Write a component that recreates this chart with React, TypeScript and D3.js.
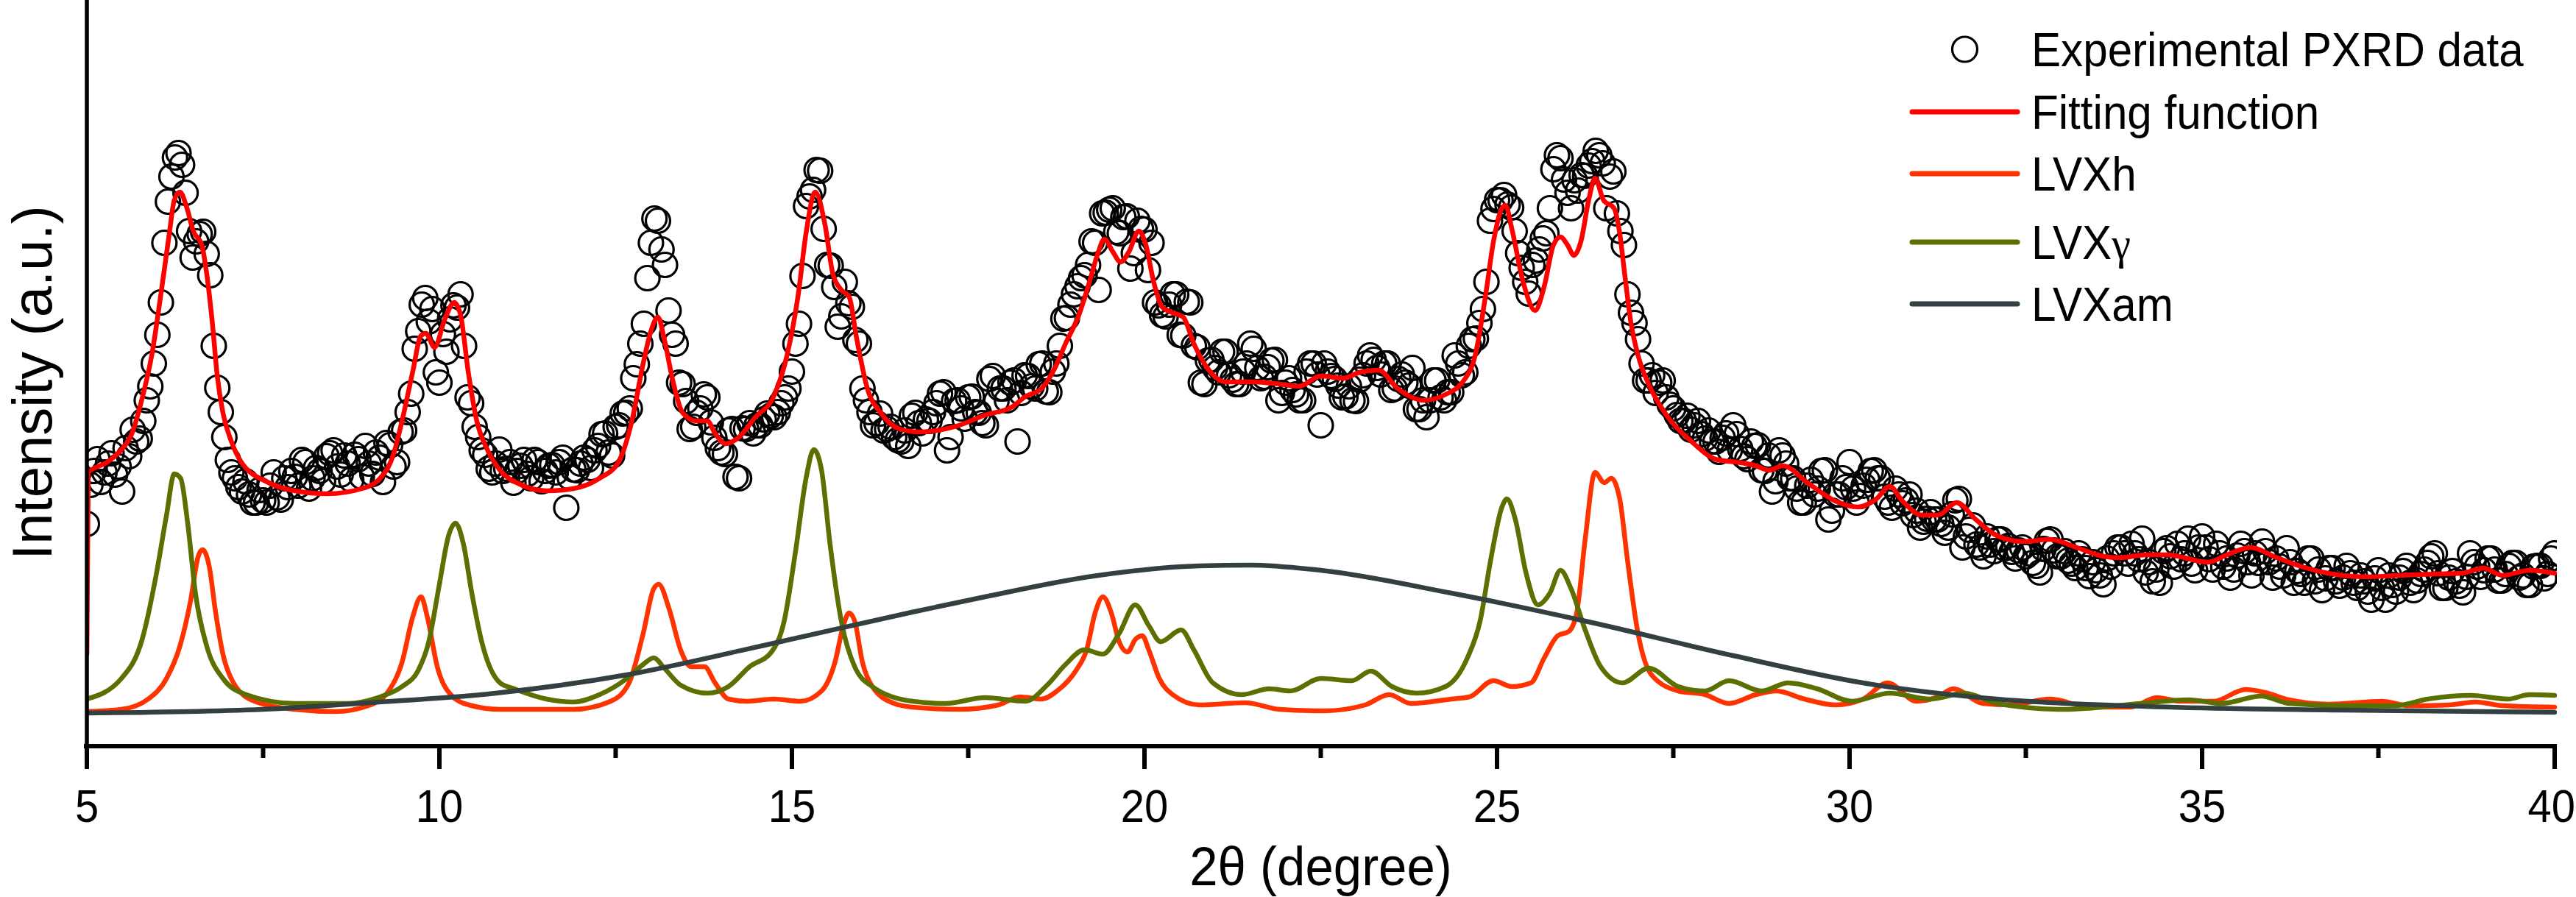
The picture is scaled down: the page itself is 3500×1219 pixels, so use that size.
import React from 'react';
import * as d3 from 'd3';

const W = 3500;
const H = 1219;

// Experimental PXRD data (intensity, a.u.): 2θ = 5.0, 5.1, ... 40.0
const expStart = 5;
const expStep = 0.1;
const expIntensity = [
  302, 374, 359, 384, 369, 346, 394, 414, 442, 489,
  559, 684, 774, 806, 752, 664, 696, 669, 544, 454,
  389, 364, 346, 342, 331, 334, 354, 338, 364, 374,
  354, 386, 364, 374, 394, 402, 369, 384, 396, 366,
  384, 399, 359, 409, 386, 429, 479, 564, 609, 594,
  494, 536, 599, 614, 474, 434, 402, 377, 384, 374,
  386, 374, 389, 364, 386, 374, 382, 386, 324, 376,
  384, 389, 402, 424, 399, 434, 452, 459, 519, 574,
  684, 714, 654, 559, 494, 469, 434, 459, 474, 419,
  399, 429, 366, 432, 439, 436, 444, 449, 454, 474,
  509, 574, 734, 756, 782, 654, 624, 584, 602, 552,
  486, 454, 439, 429, 434, 416, 429, 449, 439, 444,
  454, 479, 402, 469, 459, 474, 454, 439, 499, 469,
  486, 494, 414, 504, 489, 519, 482, 509, 544, 582,
  614, 636, 654, 684, 724, 729, 699, 719, 649, 714,
  702, 684, 599, 584, 614, 559, 604, 544, 494, 524,
  514, 536, 504, 492, 509, 547, 514, 502, 524, 470,
  494, 484, 470, 509, 520, 436, 509, 499, 474, 489,
  469, 504, 531, 514, 520, 484, 499, 494, 514, 458,
  447, 497, 474, 481, 531, 504, 544, 554, 594, 714,
  742, 749, 732, 670, 631, 654, 675, 697, 784, 799,
  752, 769, 776, 789, 809, 792, 774, 724, 681, 589,
  553, 497, 504, 494, 474, 459, 442, 449, 436, 424,
  429, 414, 419, 402, 424, 394, 414, 409, 374, 346,
  402, 384, 364, 331, 354, 342, 374, 308, 342, 364,
  386, 331, 354, 374, 364, 339, 324, 342, 334, 314,
  297, 309, 308, 302, 297, 334, 270, 294, 274, 258,
  274, 281, 269, 264, 266, 258, 249, 236, 279, 266,
  258, 252, 242, 254, 231, 239, 220, 244, 270, 262,
  275, 254, 236, 224, 222, 269, 244, 254, 282, 239,
  285, 254, 275, 244, 229, 259, 265, 232, 249, 265,
  229, 244, 269, 222, 234, 255, 224, 212, 242, 224,
  229, 235, 215, 224, 199, 239, 199, 219, 229, 245,
  212, 234, 249, 262, 215, 229, 224, 209, 262, 244,
  239, 255, 225, 234, 249, 229, 219, 244, 245, 234,
  262,
];

// Experimental PXRD data, interleaved scans: 2θ = 5.05, 5.15, ... 39.95
const expHalfStart = 5.05;
const expHalfIntensity = [
  355, 390, 372, 398, 380, 405, 430, 418, 470, 520,
  603, 740, 800, 790, 700, 686, 699, 640, 487, 420,
  372, 352, 360, 331, 348, 331, 372, 335, 352, 366,
  389, 350, 378, 360, 398, 380, 395, 362, 390, 408,
  370, 392, 412, 380, 427, 454, 540, 600, 577, 508,
  560, 580, 596, 544, 466, 420, 396, 372, 403, 377,
  358, 381, 370, 389, 360, 381, 372, 392, 365, 375,
  392, 378, 408, 425, 395, 436, 453, 500, 547, 636,
  717, 675, 592, 547, 492, 431, 453, 478, 440, 405,
  397, 431, 364, 431, 425, 436, 452, 447, 466, 486,
  547, 639, 747, 783, 703, 653, 570, 631, 597, 547,
  470, 436, 452, 431, 420, 414, 408, 453, 425, 442,
  466, 481, 420, 470, 445, 475, 453, 436, 503, 486,
  470, 497, 480, 503, 486, 520, 481, 520, 581, 600,
  625, 640, 686, 620, 725, 731, 697, 720, 670, 703,
  647, 603, 586, 600, 614, 558, 603, 542, 492, 525,
  508, 536, 498, 492, 520, 540, 500, 515, 525, 480,
  500, 478, 470, 520, 505, 520, 503, 490, 475, 470,
  498, 520, 525, 505, 520, 486, 505, 490, 458, 470,
  470, 497, 470, 481, 520, 508, 553, 575, 631, 730,
  742, 736, 700, 650, 615, 660, 690, 731, 803, 770,
  731, 755, 775, 795, 803, 731, 781, 700, 614, 575,
  520, 497, 480, 497, 464, 450, 442, 430, 442, 418,
  414, 400, 425, 436, 404, 390, 408, 375, 395, 360,
  395, 364, 350, 331, 362, 350, 375, 320, 342, 352,
  350, 340, 362, 375, 364, 331, 350, 330, 342, 320,
  305, 318, 308, 290, 315, 336, 285, 300, 270, 285,
  265, 281, 272, 255, 270, 262, 245, 268, 281, 258,
  265, 248, 262, 242, 250, 232, 255, 262, 270, 248,
  262, 282, 250, 240, 265, 258, 275, 262, 248, 270,
  270, 240, 262, 255, 240, 275, 250, 262, 278, 250,
  255, 232, 250, 238, 222, 255, 240, 228, 242, 218,
  245, 222, 232, 210, 228, 215, 232, 210, 238, 222,
  225, 240, 258, 235, 215, 238, 218, 230, 250, 230,
  255, 240, 225, 245, 249, 232, 219, 245, 228, 255,
];

// Fitting function [2θ, intensity]
const fitCurve = [
  [5.0, 125], [5.02, 372], [5.29, 386], [5.49, 403], [5.64, 425], [5.79, 475], [5.92, 531],
  [6.05, 614], [6.17, 697], [6.24, 742], [6.32, 753], [6.42, 731], [6.51, 700], [6.63, 681],
  [6.7, 642], [6.78, 575], [6.85, 503], [6.93, 453], [7.05, 414], [7.19, 386], [7.58, 358],
  [7.95, 347], [8.41, 343], [8.9, 350], [9.16, 364], [9.35, 397], [9.47, 442], [9.62, 508],
  [9.74, 558], [9.81, 561], [9.93, 542], [10.08, 581], [10.21, 603], [10.3, 586], [10.41, 508],
  [10.53, 442], [10.68, 403], [10.86, 375], [11.14, 356], [11.52, 347], [11.9, 350], [12.27, 364],
  [12.54, 386], [12.73, 442], [12.89, 520], [13.0, 564], [13.1, 583], [13.19, 553], [13.31, 497],
  [13.45, 453], [13.64, 442], [13.8, 442], [13.91, 425], [14.06, 411], [14.25, 420], [14.48, 447],
  [14.74, 475], [14.93, 531], [15.09, 614], [15.2, 697], [15.33, 753], [15.47, 708], [15.58, 642],
  [15.7, 620], [15.81, 611], [15.92, 553], [16.07, 486], [16.26, 453], [16.53, 431], [16.8, 427],
  [16.98, 428], [17.37, 436], [17.74, 450], [18.12, 461], [18.31, 475], [18.54, 486], [18.73, 514],
  [18.88, 547], [19.07, 586], [19.22, 631], [19.34, 670], [19.43, 689], [19.55, 672], [19.66, 658],
  [19.78, 672], [19.92, 700], [20.02, 681], [20.13, 631], [20.25, 597], [20.4, 589], [20.55, 583],
  [20.7, 547], [20.89, 514], [21.15, 495], [21.54, 495], [21.92, 492], [22.19, 489], [22.5, 503],
  [22.82, 500], [23.05, 508], [23.32, 511], [23.59, 486], [23.96, 470], [24.27, 478], [24.53, 497],
  [24.69, 531], [24.84, 614], [24.95, 686], [25.07, 731], [25.12, 735], [25.21, 703], [25.37, 631],
  [25.54, 592], [25.67, 625], [25.8, 681], [25.9, 692], [26.0, 681], [26.09, 667], [26.19, 686],
  [26.3, 742], [26.39, 772], [26.51, 742], [26.66, 731], [26.74, 697], [26.81, 642], [26.9, 575],
  [27.0, 531], [27.15, 492], [27.38, 453], [27.76, 414], [28.13, 389], [28.4, 386], [28.67, 381],
  [28.86, 375], [29.05, 381], [29.43, 356], [29.8, 333], [30.12, 325], [30.38, 336], [30.57, 353],
  [30.75, 333], [31.03, 314], [31.25, 314], [31.52, 331], [31.79, 308], [32.09, 286], [32.47, 278],
  [32.84, 281], [33.22, 270], [33.6, 258], [33.83, 256], [34.2, 260], [34.51, 260], [35.08, 250],
  [35.35, 260], [35.69, 270], [36.04, 257], [36.41, 244], [36.99, 232], [37.36, 230], [37.74, 232],
  [38.31, 234], [38.69, 235], [38.99, 242], [39.26, 232], [39.64, 239], [40.0, 235],
];

// LVXh component [2θ, intensity]
const lvxhCurve = [
  [5.0, 47], [5.49, 50], [5.87, 64], [6.13, 92], [6.32, 136], [6.47, 197], [6.58, 258], [6.64, 267],
  [6.74, 242], [6.82, 186], [6.93, 125], [7.08, 86], [7.38, 61], [7.95, 50], [8.52, 47], [9.02, 56],
  [9.28, 75], [9.47, 114], [9.62, 175], [9.74, 203], [9.83, 175], [9.97, 108], [10.16, 70], [10.42, 56],
  [10.86, 50], [11.9, 50], [12.43, 61], [12.69, 86], [12.89, 153], [13.04, 214], [13.11, 220],
  [13.26, 186], [13.42, 131], [13.57, 108], [13.76, 108], [13.91, 86], [14.1, 64], [14.36, 61],
  [14.74, 64], [15.12, 61], [15.42, 75], [15.61, 114], [15.73, 164], [15.81, 181], [15.89, 170],
  [16.0, 114], [16.14, 81], [16.45, 58], [16.71, 53], [17.37, 50], [17.93, 56], [18.23, 67],
  [18.54, 64], [18.76, 75], [19.03, 103], [19.18, 131], [19.3, 181], [19.41, 203], [19.53, 181],
  [19.64, 142], [19.76, 128], [19.87, 145], [19.97, 150], [20.06, 131], [20.21, 92], [20.4, 70],
  [20.78, 56], [21.43, 59], [21.92, 50], [22.55, 48], [23.13, 56], [23.47, 70], [23.78, 58],
  [24.35, 64], [24.61, 67], [24.95, 89], [25.21, 81], [25.48, 86], [25.67, 120], [25.86, 150],
  [26.02, 156], [26.13, 181], [26.25, 281], [26.39, 372], [26.52, 358], [26.62, 364], [26.74, 336],
  [26.85, 253], [27.0, 153], [27.19, 97], [27.57, 75], [27.95, 70], [28.29, 58], [28.67, 70],
  [28.96, 75], [29.36, 64], [29.8, 56], [30.19, 64], [30.54, 86], [30.95, 61], [31.25, 67],
  [31.47, 78], [31.89, 58], [32.28, 56], [32.84, 64], [33.41, 53], [33.98, 53], [34.36, 66],
  [34.7, 61], [35.16, 61], [35.62, 77], [35.89, 73], [36.23, 63], [36.8, 57], [37.55, 61],
  [37.93, 55], [38.5, 56], [38.88, 60], [39.26, 55], [40.0, 53],
];

// LVXγ component [2θ, intensity]
const lvxgCurve = [
  [5.0, 64], [5.49, 92], [5.79, 147], [5.98, 231], [6.13, 314], [6.24, 370], [6.33, 364],
  [6.43, 303], [6.54, 208], [6.7, 136], [6.93, 92], [7.26, 70], [7.95, 58], [8.71, 58], [9.16, 67],
  [9.47, 81], [9.7, 103], [9.85, 142], [10.0, 220], [10.13, 286], [10.23, 303], [10.34, 275],
  [10.46, 208], [10.6, 142], [10.86, 86], [11.06, 78], [11.52, 64], [11.9, 60], [12.27, 70],
  [12.66, 92], [12.89, 111], [13.04, 120], [13.19, 106], [13.42, 83], [13.8, 72], [14.1, 81],
  [14.4, 108], [14.71, 128], [14.89, 170], [15.05, 264], [15.2, 364], [15.31, 403], [15.42, 375],
  [15.54, 275], [15.7, 170], [15.89, 108], [16.14, 81], [16.71, 61], [17.18, 58], [17.74, 66],
  [18.31, 61], [18.62, 83], [18.88, 111], [19.15, 131], [19.41, 125], [19.64, 153], [19.87, 192],
  [20.06, 164], [20.23, 142], [20.52, 158], [20.7, 131], [20.97, 86], [21.38, 70], [21.77, 78],
  [22.07, 75], [22.5, 92], [22.94, 89], [23.21, 102], [23.51, 81], [23.86, 72], [24.27, 81],
  [24.58, 120], [24.76, 170], [24.91, 253], [25.07, 325], [25.14, 336], [25.26, 308], [25.41, 236],
  [25.58, 192], [25.75, 208], [25.9, 239], [26.05, 214], [26.25, 158], [26.47, 108], [26.78, 86],
  [27.15, 106], [27.57, 81], [27.95, 75], [28.29, 89], [28.75, 75], [29.13, 86], [29.54, 78],
  [30.03, 61], [30.57, 72], [31.14, 64], [31.63, 72], [32.09, 58], [33.04, 50], [34.13, 58],
  [34.81, 63], [35.27, 58], [35.84, 68], [36.23, 58], [36.99, 55], [37.74, 55], [38.2, 64],
  [38.81, 69], [39.34, 64], [39.64, 70], [40.0, 69],
];

// LVXam (amorphous) component [2θ, intensity]
const lvxamCurve = [
  [5.0, 45], [7.5, 50], [9.0, 59], [10.8, 72], [12.66, 97], [14.56, 136], [16.7, 182],
  [17.74, 203], [19.27, 231], [20.78, 245], [21.5, 246], [22.5, 239], [24.35, 208], [26.25, 170],
  [28.35, 123], [30.19, 86], [32.09, 64], [34.2, 54], [37.0, 49], [40.0, 46],
];

const xMajorTicks = [5, 10, 15, 20, 25, 30, 35, 40];
const xMinorTicks = [7.5, 12.5, 17.5, 22.5, 27.5, 32.5, 37.5];
const xTickLabels = ['5', '10', '15', '20', '25', '30', '35', '40'];

const xTitle = '2θ (degree)';
const yTitle = 'Intensity (a.u.)';

const seriesNames = ['Experimental PXRD data', 'Fitting function', 'LVXh', 'LVX', 'LVXam'];
const gammaSuffix = 'γ';
const seriesColors = ['#000000', '#FF0000', '#FF3300', '#5B7000', '#333F40'];

const FONT = "'Liberation Sans', Arial, Helvetica, sans-serif";

export default function App() {
  const plotLeft = 118;
  const plotRight = 3471;
  const plotBottom = 1014;
  const plotTop = 0;

  const x = d3.scaleLinear().domain([5, 40]).range([plotLeft, plotRight]);
  const y = d3.scaleLinear().domain([0, 1014]).range([plotBottom, plotTop]);

  const line = d3
    .line<number[]>()
    .x((d) => x(d[0]))
    .y((d) => y(d[1]))
    .curve(d3.curveMonotoneX);

  const expPoints = [
    ...expIntensity.map((v, i) => [expStart + i * expStep, v]),
    ...expHalfIntensity.map((v, i) => [expHalfStart + i * expStep, v]),
  ];

  const curves = [
    { data: fitCurve, color: seriesColors[1] },
    { data: lvxhCurve, color: seriesColors[2] },
    { data: lvxgCurve, color: seriesColors[3] },
    { data: lvxamCurve, color: seriesColors[4] },
  ];

  const legendX0 = 2598;
  const legendX1 = 2741;
  const legendTextX = 2760;
  const legendRows = [67, 152, 236, 329, 413];

  return (
    <svg
      width={W}
      height={H}
      viewBox={`0 0 ${W} ${H}`}
      style={{ position: 'absolute', left: 0, top: 0, background: '#fff' }}
      fontFamily={FONT}
    >
      <defs>
        <clipPath id="plotClip">
          <rect x={plotLeft} y={0} width={3474 - plotLeft} height={plotBottom} />
        </clipPath>
      </defs>
      <rect x={0} y={0} width={W} height={H} fill="#fff" />

      <g clipPath="url(#plotClip)">
        {expPoints.map((d, i) => (
          <circle
            key={i}
            cx={x(d[0])}
            cy={y(d[1])}
            r={16.5}
            fill="none"
            stroke="#000"
            strokeWidth={3.2}
          />
        ))}
        {curves.map((c, i) => (
          <path
            key={i}
            d={line(c.data as number[][]) || ''}
            fill="none"
            stroke={c.color}
            strokeWidth={6.5}
            strokeLinejoin="round"
            strokeLinecap="round"
          />
        ))}
      </g>

      {/* axes */}
      <line x1={plotLeft} y1={0} x2={plotLeft} y2={plotBottom + 3} stroke="#000" strokeWidth={5.5} />
      <line x1={plotLeft - 4} y1={plotBottom} x2={3474} y2={plotBottom} stroke="#000" strokeWidth={6} />
      {xMajorTicks.map((t) => (
        <line key={'M' + t} x1={x(t)} x2={x(t)} y1={plotBottom} y2={plotBottom + 31} stroke="#000" strokeWidth={6} />
      ))}
      {xMinorTicks.map((t) => (
        <line key={'m' + t} x1={x(t)} x2={x(t)} y1={plotBottom} y2={plotBottom + 16} stroke="#000" strokeWidth={6} />
      ))}
      {xMajorTicks.map((t, i) => {
        const last = i === xMajorTicks.length - 1;
        return (
          <text
            key={'L' + t}
            transform={`translate(${last ? 3499 : x(t)},1117) scale(0.92,1)`}
            textAnchor={last ? 'end' : 'middle'}
            fontSize={63}
            fill="#000"
          >
            {xTickLabels[i]}
          </text>
        );
      })}

      <text
        transform={`translate(${(plotLeft + plotRight) / 2},1203) scale(0.92,1)`}
        textAnchor="middle"
        fontSize={75}
        fill="#000"
      >
        {xTitle}
      </text>

      <text
        transform={`translate(70,520) rotate(-90)`}
        textAnchor="middle"
        fontSize={76}
        fill="#000"
      >
        {yTitle}
      </text>

      {/* legend */}
      <circle
        cx={(legendX0 + legendX1) / 2}
        cy={legendRows[0]}
        r={17}
        fill="none"
        stroke="#000"
        strokeWidth={3.2}
      />
      {curves.map((c, i) => (
        <line
          key={'lg' + i}
          x1={legendX0}
          x2={legendX1}
          y1={legendRows[i + 1]}
          y2={legendRows[i + 1]}
          stroke={c.color}
          strokeWidth={7}
          strokeLinecap="round"
        />
      ))}
      {seriesNames.map((name, i) => (
        <text
          key={'lt' + i}
          transform={`translate(${legendTextX},${legendRows[i] + 23}) scale(0.94,1)`}
          fontSize={64}
          fill="#000"
        >
          {name}
          {i === 3 ? (
            <tspan fontFamily="'Liberation Serif', 'DejaVu Serif', serif" fontSize={62}>
              {gammaSuffix}
            </tspan>
          ) : null}
        </text>
      ))}
    </svg>
  );
}
